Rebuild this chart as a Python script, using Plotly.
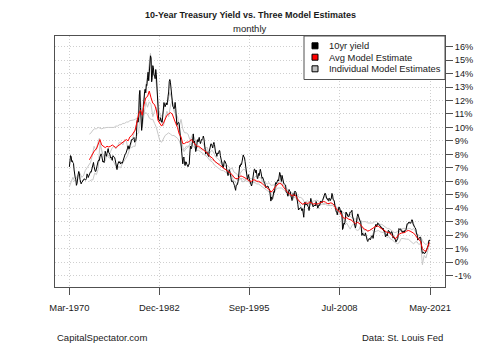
import pandas as pd
import plotly.graph_objects as go

# ---------------------------------------------------------------------------
# Data
# ---------------------------------------------------------------------------
# 10-year Treasury yield, monthly, Mar-1970 .. May-2021 (%)
yield_start = "1970-03-01"
yield_10y = [
    7.07, 7.39, 7.91, 7.84, 7.46, 7.53, 7.39, 7.33, 6.84, 6.39,
    6.24, 6.11, 5.70, 5.83, 6.39, 6.52, 6.73, 6.58, 6.14, 5.93, 5.81, 5.93,
    5.95, 6.08, 6.07, 6.19, 6.13, 6.11, 6.11, 6.21, 6.55, 6.48, 6.28, 6.36,
    6.46, 6.64, 6.71, 6.67, 6.85, 6.90, 7.13, 7.40, 7.09, 6.79, 6.73, 6.74,
    6.99, 6.96, 7.21, 7.51, 7.58, 7.54, 7.81, 8.04, 8.04, 7.90, 7.68, 7.43,
    7.50, 7.39, 7.73, 8.23, 8.06, 7.86, 8.06, 8.40, 8.43, 8.14, 8.05, 8.00,
    7.74, 7.79, 7.73, 7.56, 7.90, 7.86, 7.83, 7.77, 7.59, 7.41, 7.29, 6.87,
    7.21, 7.39, 7.46, 7.37, 7.46, 7.28, 7.33, 7.40, 7.34, 7.52, 7.58, 7.69,
    7.96, 8.03, 8.04, 8.15, 8.35, 8.46, 8.64, 8.41, 8.42, 8.64, 8.81, 9.01,
    9.10, 9.10, 9.12, 9.18, 9.25, 8.91, 8.95, 9.03, 9.33, 10.30, 10.65, 10.39,
    10.80, 12.41, 12.75, 11.47, 10.18, 9.78, 10.25, 11.10, 11.51, 11.75, 12.68, 12.84,
    12.57, 13.19, 13.12, 13.68, 14.10, 13.47, 14.28, 14.94, 15.32, 15.15, 13.39, 13.72,
    14.59, 14.43, 13.86, 13.87, 13.62, 14.30, 13.95, 13.06, 12.34, 10.91, 10.55, 10.54,
    10.46, 10.72, 10.51, 10.40, 10.38, 10.85, 11.38, 11.85, 11.65, 11.54, 11.69, 11.83,
    11.67, 11.84, 12.32, 12.63, 13.41, 13.56, 13.36, 12.72, 12.52, 12.16, 11.57, 11.50,
    11.38, 11.51, 11.86, 11.43, 10.85, 10.16, 10.31, 10.33, 10.37, 10.24, 9.78, 9.26,
    9.19, 8.70, 7.78, 7.30, 7.71, 7.80, 7.30, 7.17, 7.45, 7.43, 7.25, 7.11,
    7.08, 7.25, 7.25, 8.02, 8.61, 8.40, 8.45, 8.76, 9.42, 9.52, 8.86, 8.99,
    8.67, 8.21, 8.37, 8.72, 9.09, 8.92, 9.06, 9.26, 8.98, 8.80, 8.96, 9.11,
    9.09, 9.17, 9.36, 9.18, 8.86, 8.28, 8.02, 8.11, 8.19, 8.01, 7.87, 7.84,
    8.21, 8.47, 8.59, 8.79, 8.76, 8.48, 8.47, 8.75, 8.89, 8.72, 8.39, 8.08,
    8.09, 7.85, 8.11, 8.04, 8.07, 8.28, 8.27, 7.90, 7.65, 7.53, 7.42, 7.09,
    7.03, 7.34, 7.54, 7.48, 7.39, 7.26, 6.84, 6.59, 6.42, 6.59, 6.87, 6.77,
    6.60, 6.26, 5.98, 5.97, 6.04, 5.96, 5.81, 5.68, 5.36, 5.33, 5.72, 5.77,
    5.75, 5.97, 6.48, 6.97, 7.18, 7.10, 7.30, 7.24, 7.46, 7.74, 7.96, 7.81,
    7.78, 7.47, 7.20, 7.06, 6.63, 6.17, 6.28, 6.49, 6.20, 6.04, 5.93, 5.71,
    5.65, 5.81, 6.27, 6.51, 6.74, 6.91, 6.87, 6.64, 6.83, 6.53, 6.20, 6.30,
    6.58, 6.42, 6.69, 6.89, 6.71, 6.49, 6.22, 6.30, 6.21, 6.03, 5.88, 5.81,
    5.54, 5.57, 5.65, 5.64, 5.65, 5.50, 5.46, 5.34, 4.81, 4.53, 4.83, 4.65,
    4.72, 5.00, 5.23, 5.18, 5.54, 5.90, 5.79, 5.94, 5.92, 6.11, 6.03, 6.28,
    6.66, 6.52, 6.26, 5.99, 6.44, 6.10, 6.05, 5.83, 5.80, 5.74, 5.72, 5.24,
    5.16, 5.10, 4.89, 5.14, 5.39, 5.28, 5.24, 4.97, 4.73, 4.57, 4.65, 5.09,
    5.04, 4.91, 5.28, 5.21, 5.16, 4.93, 4.65, 4.26, 3.87, 3.94, 4.05, 4.03,
    4.05, 3.90, 3.81, 3.96, 3.57, 3.33, 3.98, 4.45, 4.27, 4.29, 4.30, 4.27,
    4.15, 4.08, 3.83, 4.35, 4.72, 4.73, 4.50, 4.28, 4.13, 4.10, 4.19, 4.23,
    4.22, 4.17, 4.50, 4.34, 4.14, 4.00, 4.18, 4.26, 4.20, 4.46, 4.54, 4.47,
    4.42, 4.57, 4.72, 4.99, 5.11, 5.11, 5.09, 4.88, 4.72, 4.73, 4.60, 4.56,
    4.76, 4.72, 4.56, 4.69, 4.75, 5.10, 5.00, 4.67, 4.52, 4.53, 4.15, 4.10,
    3.74, 3.74, 3.51, 3.68, 3.88, 4.10, 4.01, 3.89, 3.69, 3.81, 3.53, 2.42,
    2.52, 2.87, 2.82, 2.93, 3.29, 3.72, 3.56, 3.59, 3.40, 3.39, 3.40, 3.59,
    3.73, 3.69, 3.73, 3.85, 3.42, 3.20, 3.01, 2.70, 2.65, 2.54, 2.76, 3.29,
    3.39, 3.58, 3.41, 3.46, 3.17, 3.00, 3.00, 2.30, 1.98, 2.15, 2.01, 1.98,
    1.97, 1.97, 2.17, 2.05, 1.80, 1.62, 1.53, 1.68, 1.72, 1.75, 1.65, 1.72,
    1.91, 1.98, 1.96, 1.76, 1.93, 2.30, 2.58, 2.74, 2.81, 2.62, 2.72, 2.90,
    2.86, 2.71, 2.72, 2.71, 2.56, 2.60, 2.54, 2.42, 2.53, 2.30, 2.33, 2.21,
    1.88, 1.98, 2.04, 1.94, 2.20, 2.36, 2.32, 2.17, 2.17, 2.07, 2.26, 2.24,
    2.09, 1.78, 1.89, 1.81, 1.81, 1.64, 1.50, 1.56, 1.63, 1.76, 2.14, 2.49,
    2.43, 2.42, 2.48, 2.30, 2.30, 2.19, 2.32, 2.21, 2.20, 2.36, 2.35, 2.40,
    2.58, 2.86, 2.84, 2.87, 2.98, 2.91, 2.89, 2.89, 3.00, 3.15, 3.12, 2.83,
    2.71, 2.68, 2.57, 2.53, 2.40, 2.07, 2.06, 1.63, 1.70, 1.71, 1.81, 1.86,
    1.76, 1.50, 0.87, 0.66, 0.67, 0.73, 0.62, 0.65, 0.68, 0.79, 0.87, 0.93,
    1.08, 1.26, 1.61, 1.64, 1.62,
]

# Average of the three model estimates, quarterly from Jan-1973 (%)
avg_start = "1973-01-01"
avg_model = [
    7.6, 7.8, 8.1, 8.3,  8.4, 8.7, 9.1, 8.7,  8.6, 8.5, 8.6, 8.55,
    8.6, 8.7, 8.6, 8.5,  8.6, 8.7, 8.8, 8.85,  9.0, 9.1, 9.0, 9.3,
    9.4, 9.6, 9.8, 10.4,  11.0, 11.3, 10.9, 11.7,  12.2, 12.3, 12.7, 12.2,
    11.8, 11.7, 11.3, 10.5,  10.3, 10.1, 10.3, 10.6,  10.9, 11.0, 11.1, 11.0,
    10.6, 10.3, 10.0, 9.5,  9.3, 8.8, 8.8, 8.9,  8.9, 9.0, 9.1, 8.9,
    8.7, 8.6, 8.6, 8.5,  8.4, 8.3, 8.2, 8.1,  7.9, 7.8, 7.7, 7.5,
    7.4, 7.3, 7.2, 7.1,  7.0, 6.9, 6.8, 6.7,  6.6, 6.5, 6.3, 6.2,
    6.2, 6.3, 6.4, 6.35,  6.3, 6.2, 6.1, 6.0,  6.0, 6.1, 6.1, 6.0,
    6.0, 5.95, 5.85, 5.7,  5.6, 5.5, 5.4, 5.2,  5.3, 5.5, 5.65, 5.8,
    5.85, 5.8, 5.6, 5.4,  5.2, 5.1, 5.05, 4.9,  5.0, 4.95, 4.7, 4.5,
    4.4, 4.3, 4.35, 4.4,  4.35, 4.45, 4.4, 4.3,  4.35, 4.3, 4.35, 4.4,
    4.45, 4.5, 4.45, 4.35,  4.35, 4.4, 4.35, 4.2,  3.95, 3.85, 3.75, 3.5,
    3.3, 3.25, 3.3, 3.2,  3.15, 3.1, 2.95, 2.85,  2.95, 2.9, 2.75, 2.55,
    2.45, 2.4, 2.3, 2.35,  2.45, 2.5, 2.65, 2.7,  2.65, 2.55, 2.5, 2.4,
    2.25, 2.2, 2.2, 2.1,  1.95, 1.8, 1.75, 1.95,  2.1, 2.15, 2.15, 2.2,
    2.3, 2.35, 2.3, 2.25,  2.15, 2.0, 1.8, 1.7,  1.5, 1.0, 0.85, 0.8,
    1.2, 1.45,
]

# Individual model estimates, quarterly (%)
model_a_start = "1970-03-01"
model_a = [
    5.6, 6.0, 6.3, 6.0,  6.2, 6.5, 6.6, 6.3,  6.4, 6.8, 7.0, 7.2,
    7.4, 7.9, 8.6, 8.3,  8.8, 9.2, 8.5, 8.0,  7.9, 8.0, 7.8, 7.7,
    7.6, 7.5, 7.2, 7.0,  7.1, 7.0, 7.3, 7.5,  7.6, 7.9, 8.3, 8.8,
    9.2, 9.6, 10.2, 11.0,  12.6, 11.0, 11.8, 12.9,  13.6, 14.4, 15.5, 14.3,
    14.0, 13.6, 12.4, 11.0,  10.8, 11.0, 11.6, 11.7,  12.0, 12.6, 12.2, 11.6,
    11.2, 10.6, 10.0, 9.4,  8.6, 8.2, 8.4, 8.5,  8.6, 9.2, 9.5, 9.2,
    8.9, 9.0, 9.0, 8.9,  8.8, 8.5, 8.2, 8.0,  8.2, 8.3, 8.1, 7.8,
    7.7, 7.6, 7.4, 7.0,  6.9, 6.9, 6.6, 6.5,  6.4, 6.1, 5.9, 5.8,
    6.0, 6.6, 6.8, 6.9,  6.8, 6.4, 6.2, 5.9,  5.9, 6.3, 6.4, 6.2,
    6.3, 6.2, 5.9, 5.7,  5.5, 5.4, 5.1, 4.8,  5.0, 5.5, 5.8, 6.0,
    6.2, 6.0, 5.7, 5.3,  5.0, 5.2, 5.0, 4.8,  5.0, 5.0, 4.5, 4.2,
    4.0, 3.9, 4.3, 4.4,  4.2, 4.6, 4.4, 4.2,  4.3, 4.1, 4.3, 4.5,
    4.6, 4.9, 4.7, 4.5,  4.6, 4.8, 4.6, 4.2,  3.8, 4.0, 3.8, 3.0,
    2.8, 3.4, 3.5, 3.5,  3.6, 3.3, 2.8, 2.9,  3.3, 3.1, 2.4, 2.1,
    2.0, 1.8, 1.7, 1.8,  2.0, 2.3, 2.7, 2.8,  2.7, 2.6, 2.5, 2.3,
    2.0, 2.3, 2.2, 2.2,  1.9, 1.7, 1.6, 2.2,  2.4, 2.3, 2.2, 2.4,
    2.8, 2.9, 2.9, 3.0,  2.6, 2.2, 1.8, 1.8,  1.0, 0.7, 0.7, 0.9,
    1.5,
]

model_b_start = "1973-01-01"
model_b = [
    9.5, 9.6, 9.8, 9.9,  9.9, 10.0, 9.95, 9.9,  9.95, 10.0, 10.0, 10.0,
    10.0, 10.05, 10.0, 10.1,  10.1, 10.2, 10.2, 10.3,  10.3, 10.4, 10.4, 10.5,
    10.5, 10.55, 10.6, 10.7,  10.8, 11.0, 10.9, 11.0,  11.1, 11.0, 10.7, 10.6,
    10.6, 10.3, 10.0, 9.5,  9.0, 8.9, 9.2, 9.4,  9.5, 9.6, 9.5, 9.4,
    9.4, 9.3, 9.2, 9.0,  8.7, 8.3, 8.4, 8.6,  8.6, 8.7, 8.8, 8.6,
    8.4, 8.3, 8.3, 8.2,  8.1, 8.0, 7.9, 7.8,  7.6, 7.5, 7.4, 7.2,
    7.1, 7.0, 6.9, 6.8,  6.8, 6.7, 6.6, 6.5,  6.5, 6.4, 6.3, 6.2,
    6.1, 6.1, 6.2, 6.2,  6.1, 6.0, 6.0, 5.9,  5.9, 5.9, 5.9, 5.8,
    5.8, 5.7, 5.6, 5.5,  5.4, 5.3, 5.2, 5.1,  5.2, 5.3, 5.4, 5.5,
    5.5, 5.5, 5.4, 5.3,  5.1, 5.0, 4.9, 4.8,  4.8, 4.8, 4.6, 4.5,
    4.4, 4.3, 4.3, 4.3,  4.3, 4.3, 4.3, 4.2,  4.2, 4.2, 4.2, 4.3,
    4.3, 4.3, 4.3, 4.2,  4.2, 4.2, 4.2, 4.1,  4.1, 4.0, 3.9, 3.8,
    3.7, 3.6, 3.5, 3.4,  3.4, 3.3, 3.2, 3.2,  3.2, 3.2, 3.1, 3.0,
    3.0, 3.0, 2.9, 2.9,  2.9, 2.9, 3.0, 3.0,  2.9, 2.8, 2.8, 2.7,
    2.6, 2.5, 2.5, 2.4,  2.3, 2.2, 2.2, 2.3,  2.4, 2.4, 2.5, 2.5,
    2.4, 2.5, 2.5, 2.4,  2.5, 2.3, 2.1, 2.0,  1.9, 1.6, 1.4, 1.3,
    1.4, 1.6,
]

model_c_start = "1973-01-01"
model_c = [
    6.0, 6.1, 6.1, 6.6,  6.5, 6.9, 8.8, 8.2,  7.9, 7.5, 8.0, 7.9,
    8.2, 8.5, 8.6, 8.4,  8.6, 8.9, 8.9, 8.7,  9.1, 9.0, 8.3, 8.6,
    8.5, 8.6, 8.6, 9.5,  9.6, 11.8, 10.0, 11.2,  11.9, 11.5, 11.9, 11.7,
    10.8, 11.2, 11.5, 11.0,  11.1, 10.4, 10.1, 10.7,  11.2, 10.8, 11.6, 12.0,
    11.2, 11.0, 10.8, 10.1,  10.6, 9.9, 9.6, 9.6,  9.5, 9.1, 9.0, 8.9,
    8.8, 8.5, 8.5, 8.4,  8.3, 8.4, 8.5, 8.5,  7.9, 7.6, 7.6, 7.5,
    7.4, 7.3, 7.3, 7.5,  7.3, 7.1, 7.2, 7.1,  6.9, 7.0, 6.7, 6.6,
    6.5, 6.2, 6.2, 5.95,  6.0, 6.2, 6.1, 6.2,  6.2, 6.1, 6.0, 6.0,
    5.9, 5.95, 6.05, 5.9,  5.9, 5.8, 5.9, 5.7,  5.7, 5.7, 5.75, 5.9,
    5.85, 5.9, 5.7, 5.6,  5.5, 5.1, 5.25, 5.1,  5.2, 5.05, 5.0, 4.8,
    4.8, 4.7, 4.45, 4.5,  4.55, 4.45, 4.5, 4.5,  4.55, 4.6, 4.55, 4.4,
    4.45, 4.3, 4.35, 4.35,  4.25, 4.2, 4.25, 4.3,  3.95, 3.55, 3.55, 3.7,
    3.4, 2.75, 2.9, 2.7,  2.45, 2.7, 2.85, 2.45,  2.35, 2.4, 2.75, 2.55,
    2.35, 2.4, 2.3, 2.35,  2.45, 2.3, 2.25, 2.3,  2.35, 2.25, 2.2, 2.2,
    2.15, 1.8, 1.9, 1.7,  1.65, 1.5, 1.45, 1.35,  1.5, 1.75, 1.75, 1.7,
    1.7, 1.7, 1.6, 1.5,  1.35, 1.5, 1.5, 1.3,  1.4, -0.2, 0.5, 0.3,
    0.8, 1.3,
]

legend_labels = ["10yr yield", "Avg Model Estimate", "Individual Model Estimates"]
legend_fills = ["#000000", "#ff0000", "#bebebe"]

x_tick_dates = ["1970-03-01", "1982-12-01", "1995-09-01", "2008-07-01", "2021-05-01"]
x_tick_text = ["Mar-1970", "Dec-1982", "Sep-1995", "Jul-2008", "May-2021"]
y_tick_vals = list(range(-1, 17))
y_tick_text = [f"{v}%" for v in y_tick_vals]

# ---------------------------------------------------------------------------
# Figure
# ---------------------------------------------------------------------------
FONT = "Liberation Sans, Arial, Helvetica, sans-serif"
TXT = "#1a1a1a"
BORDER = "#505050"
GRID = "#cfcfcf"
W, H = 500, 346
L, R, T, B = 55, 55, 36, 59


def monthly(start, n):
    return pd.date_range(start, periods=n, freq="MS")


def quarterly(start, n):
    return pd.date_range(start, periods=n, freq="3MS")


fig = go.Figure()

for start, vals in [(model_a_start, model_a), (model_b_start, model_b), (model_c_start, model_c)]:
    fig.add_trace(go.Scatter(
        x=quarterly(start, len(vals)), y=vals, mode="lines",
        line=dict(color="#c8c8c8", width=1), showlegend=False, hoverinfo="skip"))

fig.add_trace(go.Scatter(
    x=monthly(yield_start, len(yield_10y)), y=yield_10y, mode="lines",
    line=dict(color="#000000", width=1), showlegend=False))

fig.add_trace(go.Scatter(
    x=quarterly(avg_start, len(avg_model)), y=avg_model, mode="lines",
    line=dict(color="#ff0000", width=1), showlegend=False))

plot_w = W - L - R
plot_h = H - T - B


def px_x(px):
    return (px - L) / plot_w


def px_y(py):
    return (H - B - py) / plot_h


shapes = []
annotations = []

# legend box in the upper-right corner of the plot
shapes.append(dict(type="rect", xref="paper", yref="paper",
                   x0=px_x(304), x1=1.0, y0=px_y(79.5), y1=1.0,
                   fillcolor="white", line=dict(color=BORDER, width=1), layer="above"))
row_y = [45.8, 57.2, 68.8]
for label, fill, ry in zip(legend_labels, legend_fills, row_y):
    shapes.append(dict(type="rect", xref="paper", yref="paper",
                       x0=px_x(312), x1=px_x(318), y0=px_y(ry + 3), y1=px_y(ry - 3),
                       fillcolor=fill, line=dict(color="#000000", width=1), layer="above"))
    annotations.append(dict(xref="paper", yref="paper", x=px_x(326.5), y=px_y(ry),
                            xanchor="left", yanchor="middle", showarrow=False,
                            text=label, font=dict(family=FONT, size=9.4, color=TXT)))

annotations += [
    dict(xref="paper", yref="paper", x=0.5, y=px_y(14.7), xanchor="center", yanchor="middle",
         showarrow=False, text="<b>10-Year Treasury Yield vs. Three Model Estimates</b>",
         font=dict(family=FONT, size=9.0, color=TXT)),
    dict(xref="paper", yref="paper", x=0.5, y=px_y(28.3), xanchor="center", yanchor="middle",
         showarrow=False, text="monthly", font=dict(family=FONT, size=9.5, color=TXT)),
    dict(xref="paper", yref="paper", x=0.0, y=px_y(337.3), xanchor="left", yanchor="middle",
         showarrow=False, text="CapitalSpectator.com", font=dict(family=FONT, size=9.5, color=TXT)),
    dict(xref="paper", yref="paper", x=px_x(444.5), y=px_y(337.3), xanchor="right", yanchor="middle",
         showarrow=False, text="Data: St. Louis Fed", font=dict(family=FONT, size=9.5, color=TXT)),
]

fig.update_layout(
    width=W, height=H,
    margin=dict(l=L, r=R, t=T, b=B, pad=0),
    paper_bgcolor="white", plot_bgcolor="white",
    showlegend=False,
    shapes=shapes, annotations=annotations,
    font=dict(family=FONT, size=9.4, color=TXT),
)

fig.update_xaxes(
    type="date", range=["1968-02-15", "2023-06-15"],
    tickvals=x_tick_dates, ticktext=x_tick_text,
    ticks="outside", ticklen=7, tickcolor=BORDER, tickwidth=1,
    ticklabelstandoff=5,
    showgrid=True, gridcolor=GRID, griddash="1px,2px", gridwidth=1,
    showline=True, linecolor=BORDER, linewidth=1, mirror=True,
    zeroline=False, tickfont=dict(family=FONT, size=9.4, color=TXT),
)

fig.update_yaxes(
    side="right", range=[-1.85, 16.79],
    tickvals=y_tick_vals, ticktext=y_tick_text,
    ticks="outside", ticklen=7, tickcolor=BORDER, tickwidth=1,
    showgrid=True, gridcolor=GRID, griddash="1px,2px", gridwidth=1,
    showline=True, linecolor=BORDER, linewidth=1, mirror=True,
    zeroline=False, tickfont=dict(family=FONT, size=9.2, color=TXT),
)

fig.write_html("out.html")
